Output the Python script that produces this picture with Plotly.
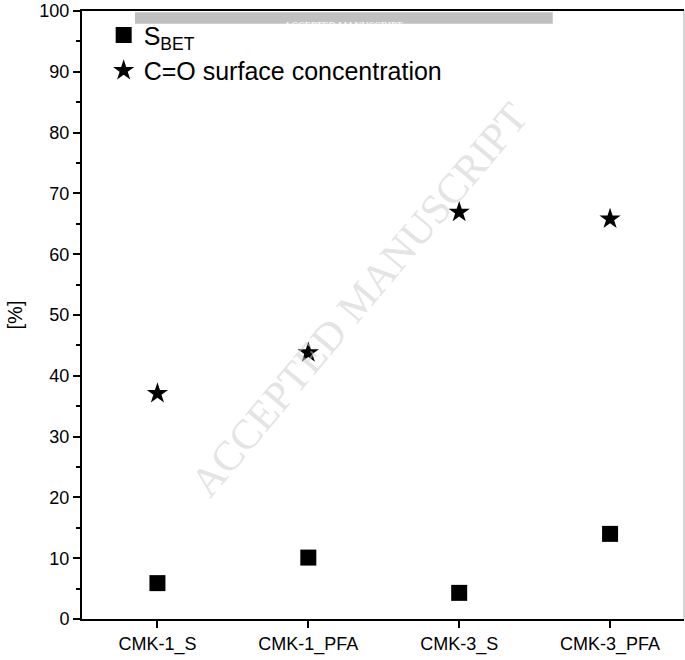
import plotly.graph_objects as go

categories = ["CMK-1_S", "CMK-1_PFA", "CMK-3_S", "CMK-3_PFA"]
s_bet = [5.9, 10.1, 4.3, 14.0]
co_conc = [37.1, 43.8, 66.9, 65.8]
y_ticks = [0, 10, 20, 30, 40, 50, 60, 70, 80, 90, 100]

fig = go.Figure()
fig.add_trace(go.Scatter(
    x=categories, y=s_bet, mode="markers", name="S<sub>BET</sub>",
    marker=dict(symbol="square", size=16, color="black"),
))
fig.add_trace(go.Scatter(
    x=categories, y=co_conc, mode="markers", name="C=O surface concentration",
    marker=dict(symbol="star", size=16, color="black"),
))

fig.update_layout(
    width=685, height=660,
    margin=dict(l=82, r=1, t=11, b=41, autoexpand=False),
    plot_bgcolor="white", paper_bgcolor="white",
    font=dict(family="Liberation Sans, Arial, sans-serif", color="black"),
    showlegend=True,
    legend=dict(x=0.036, y=0.998, xanchor="left", yanchor="top",
                font=dict(size=25), bgcolor="rgba(0,0,0,0)",
                itemsizing="trace", tracegroupgap=0),
    xaxis=dict(
        type="category", range=[-0.5, 3.49],
        showline=True, linecolor="black", linewidth=2, mirror=True,
        ticks="outside", ticklen=7, tickwidth=2, tickcolor="black",
        tickfont=dict(size=18), showgrid=False, zeroline=False,
    ),
    yaxis=dict(
        range=[0, 100], tickvals=y_ticks,
        showline=True, linecolor="black", linewidth=2,
        ticks="outside", ticklen=7, tickwidth=2, tickcolor="black",
        minor=dict(ticks="outside", ticklen=4, tickwidth=2, tickcolor="black", dtick=5),
        tickfont=dict(size=18), showgrid=False, zeroline=False,
        ticklabeloverflow="allow",
        title=dict(text="[%]", font=dict(size=20), standoff=11),
    ),
)

# right edge line (grey)
fig.add_shape(type="line", xref="paper", yref="paper", x0=1, x1=1, y0=0, y1=1,
              line=dict(color="#aaaaaa", width=1))
# top grey banner
fig.add_shape(type="rect", xref="paper", yref="paper", x0=0.088, x1=0.782,
              y0=0.979, y1=0.998, line=dict(width=0), fillcolor="#c0c0c0", layer="below")
fig.add_annotation(xref="paper", yref="paper", x=0.435, y=0.9885, text="ACCEPTED MANUSCRIPT",
                   showarrow=False, font=dict(family="Liberation Serif, serif", size=10, color="white"))
# diagonal watermark
fig.add_annotation(xref="paper", yref="paper", x=0.46, y=0.525, text="ACCEPTED MANUSCRIPT",
                   showarrow=False, textangle=-50,
                   font=dict(family="Liberation Serif, serif", size=42, color="rgba(205,205,205,0.55)"))

fig.write_html("out.html", config={"displayModeBar": False},
               post_script="document.body.style.margin='0';")
